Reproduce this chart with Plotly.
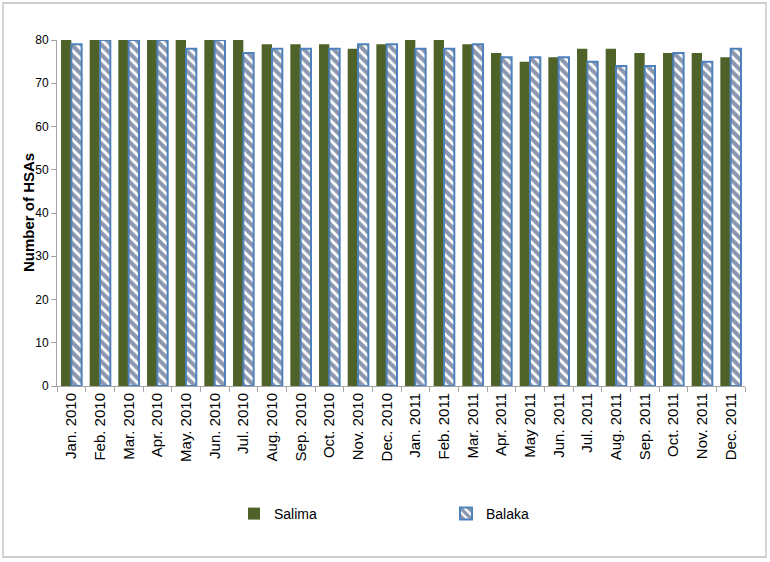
import plotly.graph_objects as go

months = ["Jan. 2010", "Feb. 2010", "Mar. 2010", "Apr. 2010", "May. 2010", "Jun. 2010",
          "Jul. 2010", "Aug. 2010", "Sep. 2010", "Oct. 2010", "Nov. 2010", "Dec. 2010",
          "Jan. 2011", "Feb. 2011", "Mar. 2011", "Apr. 2011", "May 2011", "Jun. 2011",
          "Jul. 2011", "Aug. 2011", "Sep. 2011", "Oct. 2011", "Nov. 2011", "Dec. 2011"]
salima = [80, 80, 80, 80, 80, 80, 80, 79, 79, 79, 78, 79,
          80, 80, 79, 77, 75, 76, 78, 78, 77, 77, 77, 76]
balaka = [79, 80, 80, 80, 78, 80, 77, 78, 78, 78, 79, 79,
          78, 78, 79, 76, 76, 76, 75, 74, 74, 77, 75, 78]
y_ticks = [0, 10, 20, 30, 40, 50, 60, 70, 80]
y_title = "Number of HSAs"

W, H = 770, 562
L, R, T, B = 57, 25, 40, 176

fig = go.Figure()
fig.add_trace(go.Bar(
    name="Salima", x=months, y=salima,
    marker=dict(color="#4F6228", line=dict(width=0)),
))
fig.add_trace(go.Bar(
    name="Balaka", x=months, y=balaka,
    marker=dict(
        color="white",
        line=dict(color="#4F81BD", width=2),
        pattern=dict(shape="\\", fgcolor="#172F5E", bgcolor="white", size=7, solidity=0.6),
    ),
))

pw = W - L - R
ph = H - T - B
fig.add_shape(type="rect", xref="paper", yref="paper",
              x0=(3 - L) / pw, x1=(766 - L) / pw,
              y0=(H - B - 557) / ph, y1=(H - B - 3) / ph,
              line=dict(color="#BFBFBF", width=1.3), fillcolor="rgba(0,0,0,0)", layer="below")
fig.add_annotation(text="<b>" + y_title + "</b>", textangle=-90,
                   xref="paper", yref="paper", x=(28 - L) / pw, y=0.5,
                   xanchor="center", yanchor="middle",
                   showarrow=False, font=dict(size=15, color="black"))

fig.update_layout(
    width=W, height=H,
    margin=dict(l=L, r=R, t=T, b=B),
    paper_bgcolor="white", plot_bgcolor="white",
    barmode="group", bargap=0.28, bargroupgap=0,
    font=dict(family="Liberation Sans, Arial, sans-serif", color="black"),
    showlegend=True,
    legend=dict(orientation="h", xref="container", yref="container",
                x=234 / W, xanchor="left", y=1 - 514 / H, yanchor="middle",
                entrywidth=167, entrywidthmode="pixels",
                font=dict(size=14), traceorder="normal"),
    xaxis=dict(
        type="category", tickangle=-90, tickfont=dict(size=15),
        showline=True, linecolor="#A6A6A6", linewidth=1,
        ticks="outside", tickson="boundaries", ticklen=5, tickcolor="#A6A6A6",
        showgrid=False,
    ),
    yaxis=dict(
        range=[0, 80], tickvals=y_ticks, tickfont=dict(size=12),
        showline=True, linecolor="#A6A6A6", linewidth=1,
        ticks="outside", ticklen=5, tickcolor="#A6A6A6",
        showgrid=False, zeroline=False,
    ),
)

fig.write_html("out.html", config={"displayModeBar": False},
               post_script="document.body.style.margin='0';document.body.style.overflow='hidden';")
